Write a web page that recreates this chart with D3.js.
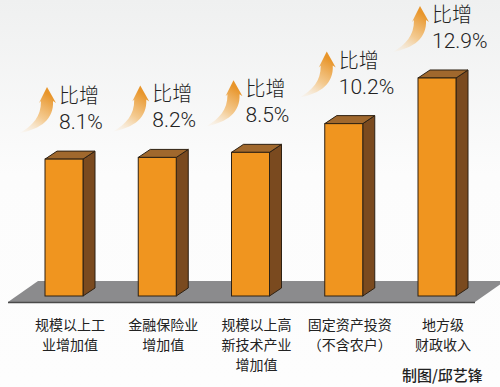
<!DOCTYPE html>
<html>
<head>
<meta charset="utf-8">
<script src="https://cdn.jsdelivr.net/npm/d3@7"></script>
<style>
    html, body { margin: 0; padding: 0; background: #fdfdfd; }
    svg { display: block; }
</style>
</head>
<body>
<svg width="500" height="387"></svg>
<script>
(function () {
    'use strict'

    // categories, one array of label lines per bar
    const categories = [
        ['规模以上工', '业增加值'],
        ['金融保险业', '增加值'],
        ['规模以上高', '新技术产业', '增加值'],
        ['固定资产投资', '（不含农户）'],
        ['地方级', '财政收入']
    ];
    // growth rate, percent
    const values = [8.1, 8.2, 8.5, 10.2, 12.9];
    const growthWord = '比增';
    const credit = '制图/邱艺锋';

    const BAR_W = 38,
        DX = 12,
        DY = 8;

    let svg = d3.select('svg'),
        width = +svg.attr('width'),
        height = +svg.attr('height');

    let keys = categories.map(c => c.join(''));

    // x() gives the centre of the bar front face
    let x = d3.scalePoint()
        .domain(keys)
        .range([64, 437]);

    // y() maps growth rate to screen height, zero at the floor line
    let y = d3.scaleLinear()
        .domain([0, 13])
        .range([296, 76.3]);

    let defs = svg.append('defs');

    let bg = defs.append('linearGradient')
        .attr('id', 'bg')
        .attr('x1', 0).attr('y1', 0).attr('x2', 0).attr('y2', 1);
    bg.append('stop').attr('offset', 0).attr('stop-color', '#eff0f0');
    bg.append('stop').attr('offset', 0.45).attr('stop-color', '#fcfcfc');
    bg.append('stop').attr('offset', 1).attr('stop-color', '#fdfdfd');

    let ag = defs.append('linearGradient')
        .attr('id', 'arrow')
        .attr('gradientUnits', 'userSpaceOnUse')
        .attr('x1', -26).attr('y1', 46).attr('x2', 0).attr('y2', 6);
    ag.append('stop').attr('offset', 0).attr('stop-color', '#f8e2c4').attr('stop-opacity', 0.1);
    ag.append('stop').attr('offset', 0.5).attr('stop-color', '#f3c27e').attr('stop-opacity', 0.85);
    ag.append('stop').attr('offset', 1).attr('stop-color', '#e8952a');

    svg.append('rect')
        .attr('width', width)
        .attr('height', height)
        .attr('fill', 'url(#bg)');

    // floor
    let base = y(0);
    svg.append('path')
        .attr('d', 'M8,' + (base + 6) + 'L475,' + (base + 6) + 'L505,' + (base - 15) + 'L38,' + (base - 15) + 'Z')
        .attr('fill', '#8b8b8d');
    svg.append('line')
        .attr('x1', 8).attr('x2', 475)
        .attr('y1', base + 6.5).attr('y2', base + 6.5)
        .attr('stroke', '#4a4a4a')
        .attr('stroke-width', 1.5);

    let bars = svg.selectAll('g.bar')
        .data(values)
        .enter()
        .append('g')
        .attr('class', 'bar');

    // side face
    bars.append('path')
        .attr('d', function (d, i) {
            let r = x(keys[i]) + BAR_W / 2, t = y(d);
            return 'M' + r + ',' + t + 'L' + (r + DX) + ',' + (t - DY) +
                'L' + (r + DX) + ',' + (base - DY) + 'L' + r + ',' + base + 'Z';
        })
        .attr('fill', '#7a4a1f')
        .attr('stroke', '#2e2113')
        .attr('stroke-width', 1)
        .attr('stroke-linejoin', 'round');

    // top face
    bars.append('path')
        .attr('d', function (d, i) {
            let l = x(keys[i]) - BAR_W / 2, t = y(d);
            return 'M' + l + ',' + t + 'L' + (l + DX) + ',' + (t - DY) +
                'L' + (l + BAR_W + DX) + ',' + (t - DY) + 'L' + (l + BAR_W) + ',' + t + 'Z';
        })
        .attr('fill', '#a0682d')
        .attr('stroke', '#2e2113')
        .attr('stroke-width', 1)
        .attr('stroke-linejoin', 'round');

    // front face
    bars.append('rect')
        .attr('x', (d, i) => x(keys[i]) - BAR_W / 2)
        .attr('y', d => y(d))
        .attr('width', BAR_W)
        .attr('height', d => base - y(d))
        .attr('fill', '#f0951f')
        .attr('stroke', '#2e2113')
        .attr('stroke-width', 1);

    // growth labels with swoosh arrows
    let labels = svg.selectAll('g.growth')
        .data(values)
        .enter()
        .append('g')
        .attr('class', 'growth')
        .attr('transform', (d, i) => 'translate(' + (x(keys[i]) - BAR_W / 2 + 14) + ',' + (y(d) - 30) + ')');

    labels.append('path')
        .attr('transform', 'translate(-12,-42)')
        .attr('d', 'M0,0L9,16L6,14C7,32 -6,42 -27,46C-14,38 -6,30 -6,14L-8,16Z')
        .attr('fill', 'url(#arrow)');

    labels.append('text')
        .attr('y', -26)
        .style('font-family', '"Noto Sans CJK SC", sans-serif')
        .style('font-size', '20px')
        .style('font-weight', 300)
        .attr('fill', '#222')
        .text(growthWord);

    labels.append('text')
        .style('font-family', 'Roboto, "Liberation Sans", sans-serif')
        .style('font-size', '21px')
        .style('font-weight', 300)
        .attr('fill', '#222')
        .text(d => d.toFixed(1) + '%');

    // category labels
    let cats = svg.selectAll('text.cat')
        .data(categories)
        .enter()
        .append('text')
        .attr('class', 'cat')
        .attr('text-anchor', 'middle')
        .style('font-family', '"Noto Sans CJK SC", sans-serif')
        .style('font-size', '14px')
        .attr('fill', '#222');

    cats.selectAll('tspan')
        .data((d, i) => d.map(line => ({ line: line, key: keys[i] })))
        .enter()
        .append('tspan')
        .attr('x', d => x(d.key) + 6)
        .attr('y', (d, j) => 330 + j * 20)
        .text(d => d.line);

    svg.append('text')
        .attr('x', 402)
        .attr('y', 381)
        .style('font-family', '"Noto Sans CJK SC", sans-serif')
        .style('font-size', '15px')
        .style('font-weight', 500)
        .attr('fill', '#222')
        .text(credit);
})();
</script>
</body>
</html>
